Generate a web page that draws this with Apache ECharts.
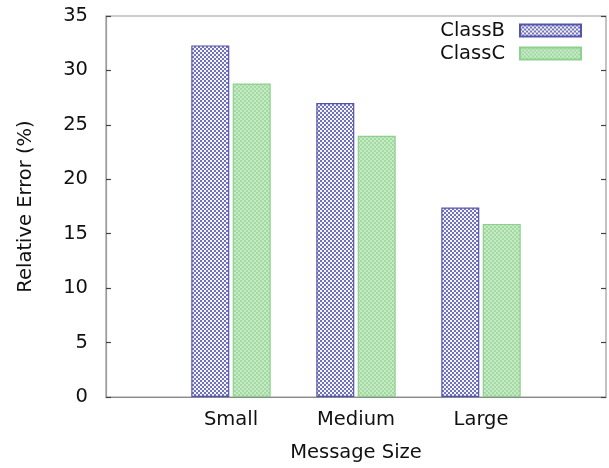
<!DOCTYPE html>
<html>
<head>
<meta charset="utf-8">
<script src="https://cdn.jsdelivr.net/npm/echarts@6/dist/echarts.min.js"></script>
<style>
  html, body { margin: 0; padding: 0; background: #fff; }
  #chart { width: 609px; height: 468px; }
</style>
</head>
<body>
<div id="chart"></div>
<script>
// Relative error per message size, two traffic classes
const categories = ['Small', 'Medium', 'Large'];
const classB = [32.3, 27.0, 17.4];
const classC = [28.8, 24.0, 15.9];
const yTicks = [0, 5, 10, 15, 20, 25, 30, 35];

const FONT = 'DejaVu Sans';

// Checkerboard tiles used as bar fills
function checkerTile(cell, colA, colB) {
  const c = document.createElement('canvas');
  c.width = cell * 2; c.height = cell * 2;
  const g = c.getContext('2d');
  g.fillStyle = colB;
  g.fillRect(0, 0, cell * 2, cell * 2);
  g.fillStyle = colA;
  g.fillRect(0, 0, cell, cell);
  g.fillRect(cell, cell, cell, cell);
  return c;
}
const hatchB = checkerTile(2, '#7272bc', '#f4f4fb');
const hatchC = checkerTile(2, '#a2daa2', '#c6eac6');

function toPairs(vals) {
  return vals.map((v, i) => [i, v]);
}

const chart = echarts.init(document.getElementById('chart'), null, { renderer: 'canvas' });

chart.setOption({
  animation: false,
  backgroundColor: '#ffffff',
  textStyle: { fontFamily: FONT },
  grid: {
    left: 106, right: 1, top: 16, bottom: 70,
    show: true, borderColor: '#9a9a9a', borderWidth: 1.2
  },
  legend: {
    orient: 'vertical',
    right: 22,
    top: 14,
    align: 'right',
    itemWidth: 61,
    itemHeight: 12,
    itemGap: 0,
    icon: 'rect',
    textStyle: { fontFamily: FONT, fontSize: 19.5, color: '#111', lineHeight: 23, padding: [0, 10, 0, 0] },
    data: ['ClassB', 'ClassC']
  },
  xAxis: {
    type: 'value',
    min: -1, max: 3, interval: 1,
    name: 'Message Size',
    nameLocation: 'middle',
    nameGap: 46,
    nameTextStyle: { fontFamily: FONT, fontSize: 19.5, color: '#111' },
    axisLine: { show: true, onZero: false, lineStyle: { color: '#8a8a8a', width: 1.2 } },
    axisTick: { show: false },
    splitLine: { show: false },
    axisLabel: {
      fontFamily: FONT, fontSize: 19.5, color: '#111', margin: 13,
      formatter: v => (categories[v] !== undefined ? categories[v] : '')
    }
  },
  yAxis: [{
    type: 'value',
    min: yTicks[0], max: yTicks[yTicks.length - 1], interval: 5,
    name: 'Relative Error (%)',
    nameLocation: 'middle',
    nameGap: 70,
    nameTextStyle: { fontFamily: FONT, fontSize: 19.5, color: '#111' },
    axisLine: { show: true, onZero: false, lineStyle: { color: '#9a9a9a', width: 1.2 } },
    axisTick: { show: true, inside: true, length: 5, lineStyle: { color: '#444', width: 1.2 } },
    splitLine: { show: false },
    axisLabel: { fontFamily: FONT, fontSize: 19.5, color: '#111', margin: 18 }
  }, {
    type: 'value',
    position: 'right',
    min: yTicks[0], max: yTicks[yTicks.length - 1], interval: 5,
    axisLine: { show: false, onZero: false },
    axisTick: { show: true, inside: true, length: 5, lineStyle: { color: '#444', width: 1.2 } },
    splitLine: { show: false },
    axisLabel: { show: false }
  }],
  series: [{
    name: 'ClassB',
    type: 'bar',
    barWidth: 38,
    barGap: '9%',
    data: toPairs(classB),
    itemStyle: {
      color: { image: hatchB, repeat: 'repeat' },
      borderColor: '#5454a8',
      borderWidth: 1.2
    }
  }, {
    name: 'ClassC',
    type: 'bar',
    barWidth: 38,
    barGap: '9%',
    data: toPairs(classC),
    itemStyle: {
      color: { image: hatchC, repeat: 'repeat' },
      borderColor: '#8ed08e',
      borderWidth: 1.2
    }
  }]
});
</script>
</body>
</html>
